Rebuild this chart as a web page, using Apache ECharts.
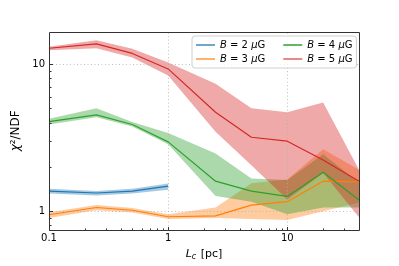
<!DOCTYPE html>
<html><head><meta charset="utf-8">
<script src="https://cdn.jsdelivr.net/npm/echarts@6/dist/echarts.min.js"></script>
<style>html,body{margin:0;padding:0;background:#fff}#c{width:399px;height:266px}</style>
</head><body><div id="c"></div>
<script>
// ---- data ----
const Lc = [0.1, 0.25, 0.5, 1, 2.5, 5, 10, 20, 40];
const LcB2 = [0.1, 0.25, 0.5, 1];
const b2Mid = [1.37, 1.33, 1.37, 1.48];
const b2Hi  = [1.42, 1.37, 1.42, 1.54];
const b2Lo  = [1.32, 1.28, 1.32, 1.40];
const b3Mid = [0.946, 1.06, 1.015, 0.917, 0.93, 1.10, 1.16, 1.60, 1.58];
const b3Hi  = [0.985, 1.10, 1.05, 0.955, 1.06, 1.55, 1.64, 2.64, 1.91];
const b3Lo  = [0.90, 1.015, 0.98, 0.884, 0.90, 0.884, 0.87, 1.0, 1.14];
const b4Mid = [4.06, 4.51, 3.88, 2.96, 1.60, 1.37, 1.26, 1.84, 1.19];
const b4Hi  = [4.24, 5.0, 4.03, 3.40, 2.47, 1.67, 1.63, 2.44, 1.56];
const b4Lo  = [3.88, 4.35, 3.76, 2.85, 1.27, 1.16, 0.955, 1.06, 1.06];
const b5Mid = [12.8, 13.7, 11.8, 9.26, 4.70, 3.18, 2.99, 2.23, 1.60];
const b5Hi  = [13.1, 14.5, 12.7, 10.25, 7.35, 5.0, 4.70, 5.48, 1.91];
const b5Lo  = [12.4, 12.8, 11.07, 8.35, 3.47, 2.05, 1.20, 1.82, 0.91];
const seriesNames = ['B = 2 μG', 'B = 3 μG', 'B = 4 μG', 'B = 5 μG'];
const xMajor = [0.1, 1, 10];
const xMinor = [0.2,0.3,0.4,0.5,0.6,0.7,0.8,0.9,2,3,4,5,6,7,8,9,20,30];
const yMajor = [1, 10];
const yMinor = [0.8,0.9,2,3,4,5,6,7,8,9];

// ---- chart ----
const XMIN = 0.1, XMAX = 40, YMIN = 0.75, YMAX = 16.5;
const FONT = 'DejaVu Sans';
const colors = ['#1f77b4', '#ff7f0e', '#2ca02c', '#d62728'];
const bandColors = ['rgba(31,119,180,0.4)', 'rgba(255,127,14,0.4)', 'rgba(44,160,44,0.4)', 'rgba(214,39,40,0.4)'];
const legendColors = ['rgba(31,119,180,0.65)', 'rgba(255,127,14,0.6)', 'rgba(44,160,44,0.75)', 'rgba(214,39,40,0.55)'];

const groups = [
  {xs: LcB2, mid: b2Mid, hi: b2Hi, lo: b2Lo},
  {xs: Lc, mid: b3Mid, hi: b3Hi, lo: b3Lo},
  {xs: Lc, mid: b4Mid, hi: b4Hi, lo: b4Lo},
  {xs: Lc, mid: b5Mid, hi: b5Hi, lo: b5Lo}
];

function bandSeries(g, color) {
  return {
    type: 'custom', name: 'band', z: 1, silent: true, clip: false, animation: false,
    data: [[g.xs[0], g.mid[0]]],
    renderItem(params, api) {
      const pts = [];
      for (let i = 0; i < g.xs.length; i++) pts.push(api.coord([g.xs[i], g.hi[i]]));
      for (let i = g.xs.length - 1; i >= 0; i--) pts.push(api.coord([g.xs[i], g.lo[i]]));
      return {type: 'polygon', shape: {points: pts}, style: {fill: color, stroke: null}};
    }
  };
}
function lineSeries(g, i) {
  return {
    type: 'line', name: seriesNames[i], z: 3, symbol: 'none', showSymbol: false, animation: false,
    data: g.xs.map((x, k) => [x, g.mid[k]]),
    lineStyle: {color: colors[i], width: 1.2}, itemStyle: {color: colors[i]}
  };
}
const px = v => Math.round(v) + 0.5;
const gridSeries = {
  type: 'custom', z: 2, silent: true, clip: false, animation: false, data: [[1, 1]],
  renderItem(params, api) {
    const ch = [];
    const st = {stroke: '#b0b0b0', lineWidth: 0.8, lineDash: [1, 2.5]};
    [1, 10].forEach(x => {
      const a = api.coord([x, YMIN]), b = api.coord([x, YMAX]);
      ch.push({type: 'line', shape: {x1: px(a[0]), y1: a[1], x2: px(b[0]), y2: b[1]}, style: st});
    });
    [1, 10].forEach(y => {
      const a = api.coord([XMIN, y]), b = api.coord([XMAX, y]);
      ch.push({type: 'line', shape: {x1: a[0], y1: px(a[1]), x2: b[0], y2: px(b[1])}, style: st});
    });
    return {type: 'group', children: ch};
  }
};
const frameSeries = {
  type: 'custom', z: 4, silent: true, clip: false, animation: false, data: [[1, 1]],
  renderItem(params, api) {
    const ch = [];
    const tl = api.coord([XMIN, YMAX]), br = api.coord([XMAX, YMIN]);
    const L = px(tl[0]), T = px(tl[1]), R = px(br[0]), B = px(br[1]);
    const tk = {stroke: '#333', lineWidth: 1};
    xMajor.concat(xMinor).forEach(x => {
      const len = xMajor.includes(x) ? 3.5 : 2;
      const p = api.coord([x, YMIN]);
      ch.push({type: 'line', shape: {x1: px(p[0]), y1: B, x2: px(p[0]), y2: B - len}, style: tk});
    });
    yMajor.concat(yMinor).forEach(y => {
      const len = yMajor.includes(y) ? 3.5 : 2;
      const p = api.coord([XMIN, y]);
      ch.push({type: 'line', shape: {x1: L, y1: px(p[1]), x2: L + len, y2: px(p[1])}, style: tk});
    });
    ch.push({type: 'rect', shape: {x: L, y: T, width: R - L, height: B - T},
      style: {fill: null, stroke: '#333', lineWidth: 1}});
    return {type: 'group', children: ch};
  }
};

const series = [];
groups.forEach((g, i) => series.push(bandSeries(g, bandColors[i])));
series.push(gridSeries);
groups.forEach((g, i) => series.push(lineSeries(g, i)));
series.push(frameSeries);

const fmtTick = (list) => (v) => {
  const m = list.find(t => Math.abs(v - t) / t < 1e-6);
  return m !== undefined ? String(m) : '';
};

const chart = echarts.init(document.getElementById('c'), null, {renderer: 'canvas'});
chart.setOption({
  animation: false,
  backgroundColor: '#fff',
  grid: {left: 49, top: 32, right: 40, bottom: 34, containLabel: false},
  xAxis: {
    type: 'log', logBase: 10, min: XMIN, max: XMAX,
    axisLine: {show: false}, axisTick: {show: false}, splitLine: {show: false},
    axisLabel: {formatter: fmtTick(xMajor), color: '#000', fontSize: 10, fontFamily: FONT, margin: 4,
      showMinLabel: true, showMaxLabel: true, hideOverlap: false},
    name: '{i|L}{s|c} [pc]', nameLocation: 'middle', nameGap: 16,
    nameTextStyle: {color: '#000', fontSize: 11, fontFamily: FONT,
      rich: {i: {fontStyle: 'italic', fontSize: 11, fontFamily: FONT, color: '#000'},
             s: {fontStyle: 'italic', fontSize: 8, fontFamily: FONT, color: '#000', padding: [6, 1, 0, 0]}}}
  },
  yAxis: {
    type: 'log', logBase: 10, min: YMIN, max: YMAX,
    axisLine: {show: false}, axisTick: {show: false}, splitLine: {show: false},
    axisLabel: {formatter: fmtTick(yMajor), color: '#000', fontSize: 10, fontFamily: FONT, margin: 4,
      showMinLabel: true, showMaxLabel: true, hideOverlap: false},
    name: '{i|χ}²/NDF', nameLocation: 'middle', nameGap: 18,
    nameTextStyle: {color: '#000', fontSize: 12, fontFamily: FONT,
      rich: {i: {fontStyle: 'italic', fontSize: 12, fontFamily: FONT, color: '#000'}}}
  },
  legend: {
    show: true, left: 192, top: 36, orient: 'horizontal', width: 165,
    icon: 'rect', itemWidth: 19, itemHeight: 2, itemGap: 2,
    padding: [3, 4, 3, 4],
    borderColor: '#d0d0d0', borderWidth: 1, borderRadius: 3, backgroundColor: 'rgba(255,255,255,0.8)',
    selectedMode: false,
    textStyle: {fontSize: 10, fontFamily: FONT, color: '#000', lineHeight: 12,
      rich: {i: {fontStyle: 'italic', fontSize: 10, fontFamily: FONT, color: '#000'},
             sp: {width: 16, fontSize: 10}}},
    formatter: (name) => {
      const base = name.replace(/^B/, '{i|B}').replace('μ', '{i|μ}');
      return (name.includes('2') || name.includes('3')) ? base + '{sp| }' : base;
    },
    data: [
      {name: seriesNames[0], itemStyle: {color: legendColors[0]}},
      {name: seriesNames[2], itemStyle: {color: legendColors[2]}},
      {name: seriesNames[1], itemStyle: {color: legendColors[1]}},
      {name: seriesNames[3], itemStyle: {color: legendColors[3]}}
    ]
  },
  series: series
});
</script>
</body></html>
